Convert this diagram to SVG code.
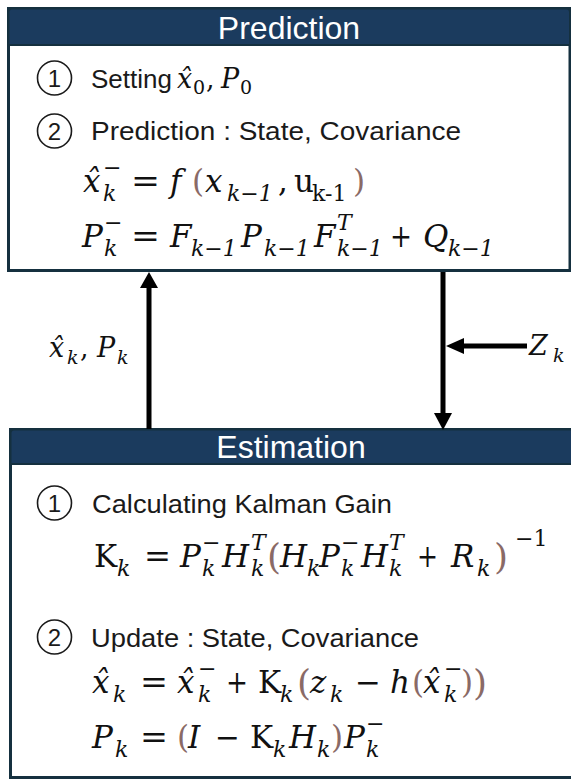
<svg xmlns="http://www.w3.org/2000/svg" width="571" height="781" viewBox="0 0 571 781">
<defs>
<style>
.box{fill:#ffffff;stroke:#15303f;stroke-width:3}
.hdr{fill:#1b3b5e;stroke:#15303f;stroke-width:2}
.title{font-family:"Liberation Sans",Arial,sans-serif;font-size:32px;fill:#ffffff;text-anchor:middle}
.txt{font-family:"Liberation Sans",Arial,sans-serif;font-size:26px;fill:#1a1a1a}
.num{font-family:"Liberation Sans",Arial,sans-serif;font-size:24px;fill:#1a1a1a;text-anchor:middle}
.circ{fill:none;stroke:#1a1a1a;stroke-width:1.6}
.m{font-family:"DejaVu Serif","Liberation Serif",serif;font-size:31px;fill:#111}
.i{font-style:italic}
.n{font-style:normal}
.s{font-size:22px}
.sm{font-size:27px}
.ss{font-size:19px}
.big{font-size:36px}
.br{fill:#8a6a66}
.conn{stroke:#000;stroke-width:5;fill:none}
.head{fill:#000}
</style>
</defs>

<g id="prediction">
<rect class="box" x="8.5" y="8.5" width="561.5" height="262"/>
<path class="hdr" d="M8.5 45 V12 Q8.5 8.5 12 8.5 H566.5 Q570 8.5 570 12 V45 Z"/>
<text class="title" x="289" y="39">Prediction</text>
<circle class="circ" cx="54.5" cy="78" r="17"/>
<text class="num" x="54.5" y="87">1</text>
<text class="txt" x="91" y="88">Setting</text>
<text class="m sm i" x="177" y="88">x̂<tspan class="n ss" x="193" y="94">0</tspan><tspan class="n" x="206" y="88">,</tspan><tspan x="221" y="88">P</tspan><tspan class="n ss" x="240" y="94">0</tspan></text>
<circle class="circ" cx="54.5" cy="131" r="17"/>
<text class="num" x="54.5" y="140">2</text>
<text class="txt" x="91" y="140" textLength="370" lengthAdjust="spacingAndGlyphs">Prediction :  State, Covariance</text>
<!-- formula 1 -->
<text class="m i" x="83" y="192">x̂<tspan class="s" x="103" y="201">k</tspan><tspan class="s n" x="103" y="175">−</tspan></text>
<text class="m" x="131" y="192" textLength="29" lengthAdjust="spacingAndGlyphs">=</text>
<text class="m i" x="170" y="192">f<tspan class="n br" x="192" y="192">(</tspan><tspan x="205" y="192">x</tspan><tspan class="s" x="227" y="201">k−1</tspan><tspan class="n" x="278" y="192">,</tspan><tspan class="n" x="294" y="192">u</tspan><tspan class="n s" x="312" y="201">k-1</tspan><tspan class="n br" x="353" y="192">)</tspan></text>
<!-- formula 2 -->
<text class="m i" x="82" y="247">P<tspan class="s" x="104" y="256">k</tspan><tspan class="s n" x="104" y="230">−</tspan></text>
<text class="m" x="131" y="247" textLength="29" lengthAdjust="spacingAndGlyphs">=</text>
<text class="m i" x="170" y="247">F<tspan class="s" x="191" y="256">k−1</tspan><tspan x="241" y="247">P</tspan><tspan class="s" x="264" y="256">k−1</tspan><tspan x="314" y="247">F</tspan><tspan class="s" x="337" y="230">T</tspan><tspan class="s" x="337" y="256">k−1</tspan></text>
<text class="m" x="390" y="247" textLength="22" lengthAdjust="spacingAndGlyphs">+</text>
<text class="m i" x="423" y="247">Q<tspan class="s" x="448" y="256">k−1</tspan></text>
</g>

<g id="estimation">
<rect class="box" x="10.5" y="429.5" width="562" height="348"/>
<path class="hdr" d="M10.5 464 V433 Q10.5 429.5 14 429.5 H572 V464 Z"/>
<text class="title" x="291" y="458">Estimation</text>
<circle class="circ" cx="54.5" cy="503" r="17"/>
<text class="num" x="54.5" y="512">1</text>
<text class="txt" x="92" y="513" textLength="300" lengthAdjust="spacingAndGlyphs">Calculating Kalman Gain</text>
<!-- K formula -->
<text class="m" x="94" y="567">K<tspan class="s i" x="117" y="576">k</tspan></text>
<text class="m" x="144" y="567" textLength="27" lengthAdjust="spacingAndGlyphs">=</text>
<text class="m i" x="180" y="567">P<tspan class="s" x="202" y="576">k</tspan><tspan class="s n" x="202" y="550">−</tspan><tspan x="222" y="567">H</tspan><tspan class="s" x="251" y="550">T</tspan><tspan class="s" x="251" y="576">k</tspan><tspan class="n br big" x="267" y="569">(</tspan><tspan x="280" y="567">H</tspan><tspan class="s" x="307" y="576">k</tspan><tspan x="319" y="567">P</tspan><tspan class="s" x="341" y="576">k</tspan><tspan class="s n" x="341" y="550">−</tspan><tspan x="361" y="567">H</tspan><tspan class="s" x="389" y="550">T</tspan><tspan class="s" x="389" y="576">k</tspan></text>
<text class="m" x="417" y="567" textLength="21" lengthAdjust="spacingAndGlyphs">+</text>
<text class="m i" x="451" y="567">R<tspan class="s" x="477" y="576">k</tspan><tspan class="n br big" x="494" y="569">)</tspan><tspan class="s n" x="515" y="546">−1</tspan></text>
<circle class="circ" cx="54.5" cy="637" r="17"/>
<text class="num" x="54.5" y="646">2</text>
<text class="txt" x="91" y="647" textLength="328" lengthAdjust="spacingAndGlyphs">Update : State, Covariance</text>
<!-- x update -->
<text class="m i" x="92" y="693">x̂<tspan class="s" x="113" y="702">k</tspan></text>
<text class="m" x="140" y="693" textLength="28" lengthAdjust="spacingAndGlyphs">=</text>
<text class="m i" x="177" y="693">x̂<tspan class="s" x="198" y="702">k</tspan><tspan class="s n" x="198" y="676">−</tspan></text>
<text class="m" x="226" y="693" textLength="22" lengthAdjust="spacingAndGlyphs">+</text>
<text class="m" x="258" y="693">K<tspan class="s i" x="280" y="702">k</tspan><tspan class="br big" x="297" y="695">(</tspan><tspan class="i" x="310" y="693">z</tspan><tspan class="s i" x="330" y="702">k</tspan></text>
<text class="m" x="355" y="693" textLength="26" lengthAdjust="spacingAndGlyphs">−</text>
<text class="m i" x="390" y="693">h<tspan class="n br" x="412" y="693">(</tspan><tspan x="423" y="693">x̂</tspan><tspan class="s" x="444" y="702">k</tspan><tspan class="s n" x="444" y="676">−</tspan><tspan class="n br" x="461" y="693">)</tspan><tspan class="n br big" x="473" y="695">)</tspan></text>
<!-- P update -->
<text class="m i" x="92" y="748">P<tspan class="s" x="115" y="757">k</tspan></text>
<text class="m" x="140" y="748" textLength="28" lengthAdjust="spacingAndGlyphs">=</text>
<text class="m" x="177" y="748"><tspan class="br">(</tspan><tspan class="i" x="188" y="748">I</tspan></text>
<text class="m" x="215" y="748" textLength="25" lengthAdjust="spacingAndGlyphs">−</text>
<text class="m" x="250" y="748">K<tspan class="s i" x="273" y="757">k</tspan><tspan class="i" x="289" y="748">H</tspan><tspan class="s i" x="317" y="757">k</tspan><tspan class="br" x="331" y="748">)</tspan><tspan class="i" x="344" y="748">P</tspan><tspan class="s i" x="366" y="757">k</tspan><tspan class="s" x="366" y="731">−</tspan></text>
</g>

<g id="connectors">
<line class="conn" x1="149" y1="429" x2="149" y2="285"/>
<polygon class="head" points="149,272 140,288 158,288"/>
<line class="conn" x1="443" y1="272" x2="443" y2="416"/>
<polygon class="head" points="443,430 434,413 452,413"/>
<line class="conn" x1="527" y1="346" x2="460" y2="346"/>
<polygon class="head" points="446,346 464,338 464,354"/>
</g>

<g id="labels">
<text class="m sm i" x="49" y="357">x̂<tspan class="ss" x="67" y="364">k</tspan><tspan class="n" x="80" y="357">,</tspan><tspan x="97" y="357">P</tspan><tspan class="ss" x="117" y="364">k</tspan></text>
<text class="m sm i" x="529" y="355">Z<tspan class="ss" x="553" y="362">k</tspan></text>
</g>
</svg>
